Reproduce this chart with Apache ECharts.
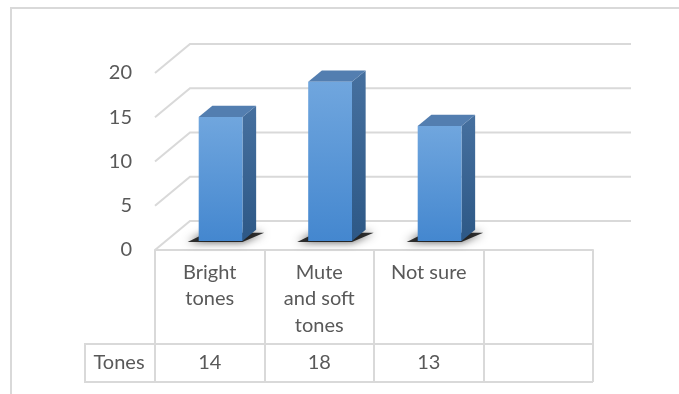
<!DOCTYPE html>
<html>
<head>
<meta charset="utf-8">
<script src="https://cdn.jsdelivr.net/npm/echarts@6/dist/echarts.min.js"></script>
<style>
  html, body { margin: 0; padding: 0; background: #fff; }
  #chart { width: 679px; height: 394px; }
</style>
</head>
<body>
<div id="chart"></div>
<script>
// ---- data ----
const categories = ['Bright tones', 'Mute and soft tones', 'Not sure', ''];
const headerLabels = ['Bright\ntones', 'Mute\nand soft\ntones', 'Not sure', ''];
const seriesName = 'Tones';
const values = [14, 18, 13];
const yTicks = [0, 5, 10, 15, 20];

// ---- style constants ----
const FONT = 'Lato, "Open Sans", sans-serif';
const TEXT = '#595959';
const LINE = '#d9d9d9';
const DEPTH = { x: 35, y: -29 };      // full floor depth in pixels
const FRONT = 0.31, BACK = 0.70;      // bar depth span (fraction of floor depth)
const BAR_FRAC = 0.40;                // bar width / band width
const HEADER_H = 94, ROW_H = 38, NAME_W = 70;
const FONT_SIZE = 20;

const chart = echarts.init(document.getElementById('chart'), null, { renderer: 'canvas' });

function renderFrame(params, api) {
  const band = api.size([1, 0])[0];
  const x0 = api.coord([0, 0])[0] - band / 2;
  const x1 = api.coord([categories.length - 1, 0])[0] + band / 2;
  const children = [];
  // side wall + back wall gridlines
  yTicks.forEach(t => {
    const y = api.coord([0, t])[1];
    children.push({
      type: 'polyline',
      shape: { points: [[x0, y], [x0 + DEPTH.x, y + DEPTH.y], [x1 + DEPTH.x + 3, y + DEPTH.y]] },
      style: { stroke: LINE, lineWidth: 2, fill: null }
    });
  });
  // data table: series-name cell and bottom border
  const yBase = api.coord([0, 0])[1];
  const rowTop = yBase + HEADER_H, rowBot = rowTop + ROW_H;
  const nameX = x0 - NAME_W;
  children.push({
    type: 'polyline',
    shape: { points: [[x0, rowTop], [nameX, rowTop], [nameX, rowBot], [x1, rowBot]] },
    style: { stroke: LINE, lineWidth: 2, fill: null }
  });
  children.push({
    type: 'text',
    style: {
      text: seriesName, x: (x0 + nameX) / 2 - 1, y: (rowTop + rowBot) / 2,
      align: 'center', verticalAlign: 'middle',
      fill: TEXT, fontSize: FONT_SIZE, fontFamily: FONT
    }
  });
  return { type: 'group', children };
}

function renderBar(params, api) {
  const i = api.value(0), v = api.value(1);
  const top = api.coord([i, v]), base = api.coord([i, 0]);
  const band = api.size([1, 0])[0];
  const w = band * BAR_FRAC;
  const fx = DEPTH.x * FRONT, fy = DEPTH.y * FRONT;
  const dx = DEPTH.x * (BACK - FRONT), dy = DEPTH.y * (BACK - FRONT);
  const xl = top[0] - w / 2 + fx, xr = top[0] + w / 2 + fx;
  const yt = top[1] + fy, yb = base[1] + fy;
  return {
    type: 'group',
    children: [
      { // cast shadow on the floor
        type: 'polygon',
        shape: { points: [[xl - 11, yb + 1], [xr, yb + 1], [xr + dx + 8, yb + dy + 3], [xl + dx - 6, yb + dy + 3]] },
        style: { fill: 'rgba(15,15,15,0.85)', shadowBlur: 8, shadowColor: 'rgba(0,0,0,0.8)' }
      },
      { // right side face
        type: 'polygon',
        shape: { points: [[xr, yt], [xr + dx, yt + dy], [xr + dx, yb + dy], [xr, yb]] },
        style: {
          fill: new echarts.graphic.LinearGradient(0, 0, 0, 1, [
            { offset: 0, color: '#46709f' }, { offset: 1, color: '#2d5886' }
          ])
        }
      },
      { // top face
        type: 'polygon',
        shape: { points: [[xl, yt], [xl + dx, yt + dy], [xr + dx, yt + dy], [xr, yt]] },
        style: { fill: '#537eb0' }
      },
      { // front face
        type: 'rect',
        shape: { x: xl, y: yt, width: xr - xl, height: yb - yt },
        style: {
          fill: new echarts.graphic.LinearGradient(0, 0, 0, 1, [
            { offset: 0, color: '#70a6de' }, { offset: 1, color: '#4487cf' }
          ])
        }
      }
    ]
  };
}

const option = {
  animation: false,
  backgroundColor: '#fff',
  textStyle: { fontFamily: FONT },
  graphic: [{
    type: 'rect', silent: true, z: -10,
    shape: { x: 11, y: 8, width: 720, height: 420 },
    style: { fill: null, stroke: LINE, lineWidth: 2 }
  }],
  grid: { left: 155, right: 86, top: 73, bottom: 144 },
  xAxis: [{
    type: 'category',
    data: categories,
    boundaryGap: true,
    axisLine: { show: true, lineStyle: { color: LINE, width: 2 } },
    axisTick: { show: true, length: HEADER_H, lineStyle: { color: LINE, width: 2 } },
    axisLabel: {
      interval: 0, margin: 9, color: TEXT, fontSize: FONT_SIZE, fontFamily: FONT,
      lineHeight: 26.5, verticalAlign: 'top',
      formatter: (val, idx) => headerLabels[idx]
    },
    splitLine: { show: false }
  }, {
    type: 'category',
    data: categories.map((c, i) => (i < values.length ? String(values[i]) : '')),
    position: 'bottom',
    offset: HEADER_H,
    boundaryGap: true,
    axisLine: { show: true, lineStyle: { color: LINE, width: 2 } },
    axisTick: { show: true, length: ROW_H, lineStyle: { color: LINE, width: 2 } },
    axisLabel: {
      interval: 0, margin: ROW_H / 2, color: TEXT, fontSize: FONT_SIZE, fontFamily: FONT,
      verticalAlign: 'middle'
    }
  }],
  yAxis: {
    type: 'value',
    min: 0, max: 20, interval: 5,
    axisLine: { show: false },
    axisTick: { show: false },
    splitLine: { show: false },
    axisLabel: { margin: 23, color: TEXT, fontSize: 20, fontFamily: FONT }
  },
  series: [{
    type: 'custom',
    name: 'frame',
    silent: true,
    z: 1,
    renderItem: renderFrame,
    data: [[0, 0]]
  }, {
    type: 'custom',
    name: seriesName,
    z: 3,
    renderItem: renderBar,
    data: values.map((v, i) => [i, v])
  }]
};

chart.setOption(option);
</script>
</body>
</html>
